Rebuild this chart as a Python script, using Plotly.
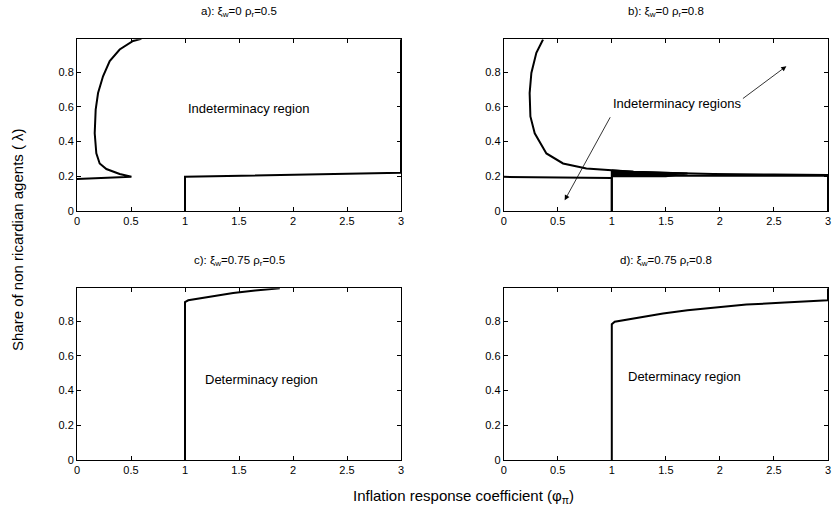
import plotly.graph_objects as go

# ---- Data ----
# Panel a: xi_w=0, rho_r=0.5
a_curve_x = [0.0, 0.504, 0.395, 0.272, 0.21, 0.179, 0.164, 0.173, 0.195, 0.241, 0.303, 0.395, 0.519, 0.596]
a_curve_y = [0.184, 0.197, 0.213, 0.242, 0.274, 0.332, 0.448, 0.584, 0.680, 0.777, 0.864, 0.931, 0.980, 0.993]
a_bound_x = [1.0, 1.0, 3.0, 3.0]
a_bound_y = [0.0, 0.197, 0.220, 0.99]

# Panel b: xi_w=0, rho_r=0.8
b_curve_x = [0.364, 0.302, 0.256, 0.240, 0.247, 0.287, 0.395, 0.549, 0.765, 1.0, 1.2, 1.474, 1.7, 1.937, 2.5, 3.0]
b_curve_y = [0.989, 0.912, 0.796, 0.680, 0.545, 0.448, 0.332, 0.274, 0.245, 0.234, 0.226, 0.220, 0.216, 0.214, 0.210, 0.207]
b_left_x = [0.0, 1.0, 1.0]
b_left_y = [0.197, 0.190, 0.0]
b_vert_x = [1.0, 1.0]
b_vert_y = [0.0, 0.234]
b_right_x = [1.0, 3.0, 3.0]
b_right_y = [0.203, 0.203, 0.0]
b_wedge_x = [1.0, 1.2, 1.474, 1.7, 1.5, 1.0]
b_wedge_y = [0.234, 0.226, 0.220, 0.216, 0.200, 0.200]

# Panel c: xi_w=0.75, rho_r=0.5
c_x = [1.0, 1.0, 1.03, 1.25, 1.446, 1.65, 1.878]
c_y = [0.0, 0.911, 0.921, 0.945, 0.963, 0.977, 0.990]

# Panel d: xi_w=0.75, rho_r=0.8
d_x = [1.0, 1.0, 1.027, 1.25, 1.474, 1.7, 1.937, 2.245, 2.6, 3.0, 3.0]
d_y = [0.0, 0.783, 0.797, 0.822, 0.845, 0.864, 0.879, 0.896, 0.908, 0.921, 0.99]

x_ticks = [0, 0.5, 1, 1.5, 2, 2.5, 3]
x_tick_labels = ["0", "0.5", "1", "1.5", "2", "2.5", "3"]
y_ticks = [0, 0.2, 0.4, 0.6, 0.8]
y_tick_labels = ["0", "0.2", "0.4", "0.6", "0.8"]

titles = ["a): ξ<sub>w</sub>=0 ρ<sub>r</sub>=0.5", "b): ξ<sub>w</sub>=0 ρ<sub>r</sub>=0.8",
          "c): ξ<sub>w</sub>=0.75 ρ<sub>r</sub>=0.5", "d): ξ<sub>w</sub>=0.75 ρ<sub>r</sub>=0.8"]

W, H = 833, 513
FONT = "Arial, Liberation Sans, sans-serif"
line = dict(color="black", width=2)

fig = go.Figure()

def add(x, y, ax, **kw):
    fig.add_trace(go.Scatter(x=x, y=y, mode="lines", line=line, xaxis="x" + ax, yaxis="y" + ax,
                             showlegend=False, hoverinfo="skip", **kw))

add(a_curve_x, a_curve_y, "")
add(a_bound_x, a_bound_y, "")
add(b_wedge_x, b_wedge_y, "2", fill="toself", fillcolor="black")
add(b_curve_x, b_curve_y, "2")
add(b_left_x, b_left_y, "2")
add(b_vert_x, b_vert_y, "2")
add(b_right_x, b_right_y, "2")
add(c_x, c_y, "3")
add(d_x, d_y, "4")

# panel page-pixel boxes: (left, right, top, bottom)
boxes = [(77, 401, 39.3, 211), (503.7, 828, 39.3, 211), (77, 401, 288.3, 460), (503.7, 828, 288.3, 460)]

def px(x):
    return x / W

def py(y):
    return 1 - y / H

layout = dict(width=W, height=H, margin=dict(l=0, r=0, t=0, b=0), plot_bgcolor="white",
              paper_bgcolor="white", font=dict(family=FONT, color="black", size=11))
ann = []
for i, (l, r, t, b) in enumerate(boxes):
    sfx = "" if i == 0 else str(i + 1)
    ax_common = dict(showline=True, linecolor="black", linewidth=1, mirror="allticks", ticks="inside",
                     ticklen=4, tickcolor="black", showgrid=False, zeroline=False, automargin=False,
                     tickfont=dict(family=FONT, size=11, color="black"))
    layout["xaxis" + sfx] = dict(domain=[px(l), px(r)], range=[0, 3], anchor="y" + sfx,
                                 tickvals=x_ticks, ticktext=x_tick_labels, **ax_common)
    layout["yaxis" + sfx] = dict(domain=[py(b), py(t)], range=[0, 0.99], anchor="x" + sfx,
                                 tickvals=y_ticks, ticktext=y_tick_labels, **ax_common)
    ann.append(dict(text=titles[i], x=px((l + r) / 2), y=py(t - 27), xref="paper", yref="paper",
                    showarrow=False, font=dict(size=11.5), xanchor="center", yanchor="middle"))

ann += [
    dict(text="Indeterminacy region", x=1.59, y=0.589, xref="x", yref="y", showarrow=False, font=dict(size=13)),
    dict(text="Indeterminacy regions", x=1.6, y=0.622, xref="x2", yref="y2", showarrow=False, font=dict(size=13)),
    dict(text="Determinacy region", x=1.71, y=0.464, xref="x3", yref="y3", showarrow=False, font=dict(size=13)),
    dict(text="Determinacy region", x=1.677, y=0.484, xref="x4", yref="y4", showarrow=False, font=dict(size=13)),
    dict(text="", x=0.564, y=0.062, ax=0.993, ay=0.549, xref="x2", yref="y2", axref="x2", ayref="y2",
         showarrow=True, arrowhead=2, arrowsize=1.3, arrowwidth=0.8, arrowcolor="black"),
    dict(text="", x=2.615, y=0.835, ax=2.199, ay=0.642, xref="x2", yref="y2", axref="x2", ayref="y2",
         showarrow=True, arrowhead=2, arrowsize=1.3, arrowwidth=0.8, arrowcolor="black"),
    dict(text="Share of non ricardian agents ( λ)", x=px(17), y=py(240), xref="paper", yref="paper",
         showarrow=False, textangle=-90, font=dict(size=15), xanchor="center", yanchor="middle"),
    dict(text="Inflation response coefficient (φ<sub>π</sub>)", x=px(463), y=py(496), xref="paper", yref="paper",
         showarrow=False, font=dict(size=15), xanchor="center", yanchor="middle"),
]
layout["annotations"] = ann
fig.update_layout(**layout)
# remove the default 8px page margin so the figure fills the window exactly
fig.write_html("out.html", config={"displayModeBar": False},
               post_script="document.body.style.margin='0px';document.body.style.overflow='hidden';")
